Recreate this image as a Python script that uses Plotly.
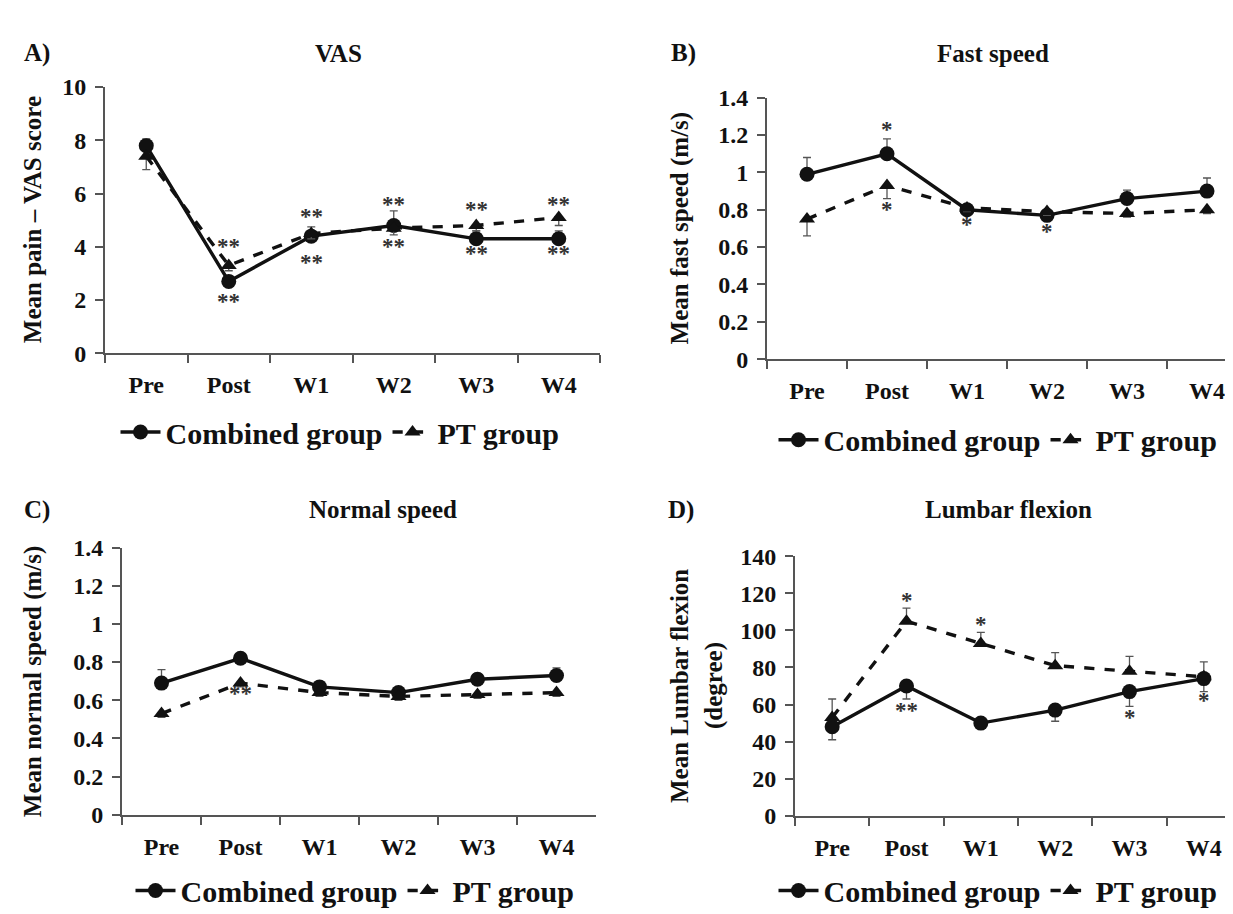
import plotly.graph_objects as go

W, H = 1233, 914
categories = ["Pre", "Post", "W1", "W2", "W3", "W4"]

# Panel A: VAS
vas_comb = [7.8, 2.7, 4.4, 4.8, 4.3, 4.3]
vas_comb_err = [0.25, 0.2, 0.35, 0.55, 0.3, 0.3]
vas_pt = [7.4, 3.3, 4.5, 4.7, 4.8, 5.1]
vas_pt_err = [0.5, 0.2, 0.2, 0.25, 0.2, 0.3]

# Panel B: Fast speed
fast_comb = [0.99, 1.10, 0.80, 0.77, 0.86, 0.90]
fast_comb_err = [0.09, 0.08, 0.02, 0.02, 0.045, 0.07]
fast_pt = [0.75, 0.93, 0.81, 0.79, 0.78, 0.80]
fast_pt_err = [0.09, 0.07, 0.02, 0.02, 0.02, 0.02]

# Panel C: Normal speed
norm_comb = [0.69, 0.82, 0.67, 0.64, 0.71, 0.73]
norm_comb_err = [0.07, 0.01, 0.02, 0.02, 0.03, 0.04]
norm_pt = [0.53, 0.69, 0.64, 0.62, 0.63, 0.64]
norm_pt_err = [0.02, 0.02, 0.02, 0.02, 0.02, 0.02]

# Panel D: Lumbar flexion
lum_comb = [48, 70, 50, 57, 67, 74]
lum_comb_err = [7, 7, 1, 6, 8, 7]
lum_pt = [53, 105, 93, 81, 78, 75]
lum_pt_err = [10, 7, 6, 7, 8, 8]

# significance marks: (category, y, text)
sig_A = [("Post", 4.0, "**"), ("Post", 1.95, "**"), ("W1", 5.15, "**"), ("W1", 3.4, "**"),
         ("W2", 5.6, "**"), ("W2", 4.0, "**"), ("W3", 5.4, "**"), ("W3", 3.75, "**"),
         ("W4", 5.6, "**"), ("W4", 3.75, "**")]
sig_B = [("Post", 1.23, "*"), ("Post", 0.80, "*"), ("W1", 0.72, "*"), ("W2", 0.685, "*")]
sig_C = [("Post", 0.635, "**")]
sig_D = [("Post", 116, "*"), ("Post", 57, "**"), ("W1", 103, "*"), ("W3", 53, "*"), ("W4", 62, "*")]

panels = [
    dict(title="VAS", letter="A)", ytitle=["Mean pain – VAS score"], yr=[0, 10], dt=2,
         comb=vas_comb, ce=vas_comb_err, cdir="up", pt=vas_pt, pe=vas_pt_err, pdir="down", sig=sig_A,
         px=(97, 592), xmax=5.5, py=(68, 342), tx=330, ty=33, lx=29, ytx=[24], leg=(332, 423)),
    dict(title="Fast speed", letter="B)", ytitle=["Mean fast speed (m/s)"], yr=[0, 1.4], dt=0.2,
         comb=fast_comb, ce=fast_comb_err, cdir="up", pt=fast_pt, pe=fast_pt_err, pdir="down", sig=sig_B,
         px=(759, 1233), xmax=5.425, py=(79, 348), tx=985, ty=33, lx=675, ytx=[672], leg=(990, 431)),
    dict(title="Normal speed", letter="C)", ytitle=["Mean normal speed (m/s)"], yr=[0, 1.4], dt=0.2,
         comb=norm_comb, ce=norm_comb_err, cdir="up", pt=norm_pt, pe=norm_pt_err, pdir="down", sig=sig_C,
         px=(114, 588), xmax=5.5, py=(542, 817), tx=375, ty=503, lx=29, ytx=[25], leg=(347, 895)),
    dict(title="Lumbar flexion", letter="D)", ytitle=["Mean Lumbar flexion", "(degree)"], yr=[0, 140], dt=20,
         comb=lum_comb, ce=lum_comb_err, cdir="down", pt=lum_pt, pe=lum_pt_err, pdir="up", sig=sig_D,
         px=(787, 1233), xmax=5.5, py=(551, 818), tx=1000, ty=503, lx=673, ytx=[671, 706], leg=(990, 895)),
]

FONT = "Liberation Serif"
INK = "#111111"
AX = "#555555"
fig = go.Figure()
annotations = []
layout = {}

for i, p in enumerate(panels):
    n = "" if i == 0 else str(i + 1)
    xa, ya = "x" + n, "y" + n
    leg = "legend" + n
    for name, vals, err, d, sym, dash in [
        ("Combined group", p["comb"], p["ce"], p["cdir"], "circle", "solid"),
        ("PT group", p["pt"], p["pe"], p["pdir"], "triangle-up", "dash"),
    ]:
        zeros = [0] * len(err)
        fig.add_trace(go.Scatter(
            x=categories, y=vals, name=name, mode="lines+markers",
            xaxis=xa, yaxis=ya, legend=leg,
            line=dict(color=INK, width=3.4, dash=dash),
            marker=dict(symbol=sym, size=15 if sym == "circle" else 14, color=INK),
            error_y=dict(type="data", symmetric=False,
                         array=err if d == "up" else zeros,
                         arrayminus=err if d == "down" else zeros,
                         color="#555555", thickness=1.3, width=4),
        ))
    x0, x1 = p["px"]
    y0, y1 = p["py"]
    layout["xaxis" + n] = dict(
        domain=[x0 / W, x1 / W], anchor=ya, type="category", range=[-0.5, p["xmax"]],
        tickson="boundaries", ticks="outside", ticklen=8, tickwidth=2, tickcolor=AX,
        ticklabelstandoff=9,
        showline=True, linecolor=AX, linewidth=2, showgrid=False, zeroline=False,
        tickfont=dict(family=FONT, size=24, color=INK, weight="bold"), fixedrange=True,
    )
    layout["yaxis" + n] = dict(
        domain=[1 - y1 / H, 1 - y0 / H], anchor=xa, range=p["yr"], dtick=p["dt"],
        ticks="outside", ticklen=8, tickwidth=2, tickcolor=AX, ticklabelstandoff=4,
        showline=True, linecolor=AX, linewidth=2, showgrid=False, zeroline=False,
        tickfont=dict(family=FONT, size=24, color=INK, weight="bold"), fixedrange=True,
    )
    lx, ly = p["leg"]
    layout[leg] = dict(
        x=lx / W, y=1 - ly / H, xanchor="center", yanchor="middle", orientation="h",
        font=dict(family=FONT, size=30, color=INK, weight="bold"),
        bgcolor="rgba(0,0,0,0)", itemwidth=40, tracegroupgap=0,
    )
    annotations.append(dict(text=p["title"], x=p["tx"] / W, y=1 - p["ty"] / H, xref="paper", yref="paper",
                            xanchor="center", yanchor="middle", showarrow=False,
                            font=dict(family=FONT, size=25, color=INK, weight="bold")))
    annotations.append(dict(text=p["letter"], x=p["lx"] / W, y=1 - p["ty"] / H, xref="paper", yref="paper",
                            xanchor="center", yanchor="middle", showarrow=False,
                            font=dict(family=FONT, size=25, color=INK, weight="bold")))
    for line, ytx in zip(p["ytitle"], p["ytx"]):
        annotations.append(dict(text=line, x=ytx / W, y=1 - (y0 + y1) / 2 / H, xref="paper", yref="paper",
                                xanchor="center", yanchor="middle", showarrow=False, textangle=-90,
                                font=dict(family=FONT, size=25, color=INK, weight="bold")))
    for cat, yv, t in p["sig"]:
        annotations.append(dict(text=t, x=cat, y=yv, xref=xa, yref=ya, showarrow=False,
                                xanchor="center", yanchor="middle",
                                font=dict(family=FONT, size=23, color="#333333", weight="bold")))

fig.update_layout(
    width=W, height=H, margin=dict(l=0, r=0, t=0, b=0),
    paper_bgcolor="white", plot_bgcolor="white",
    annotations=annotations, **layout,
)
fig.write_html("out.html")
